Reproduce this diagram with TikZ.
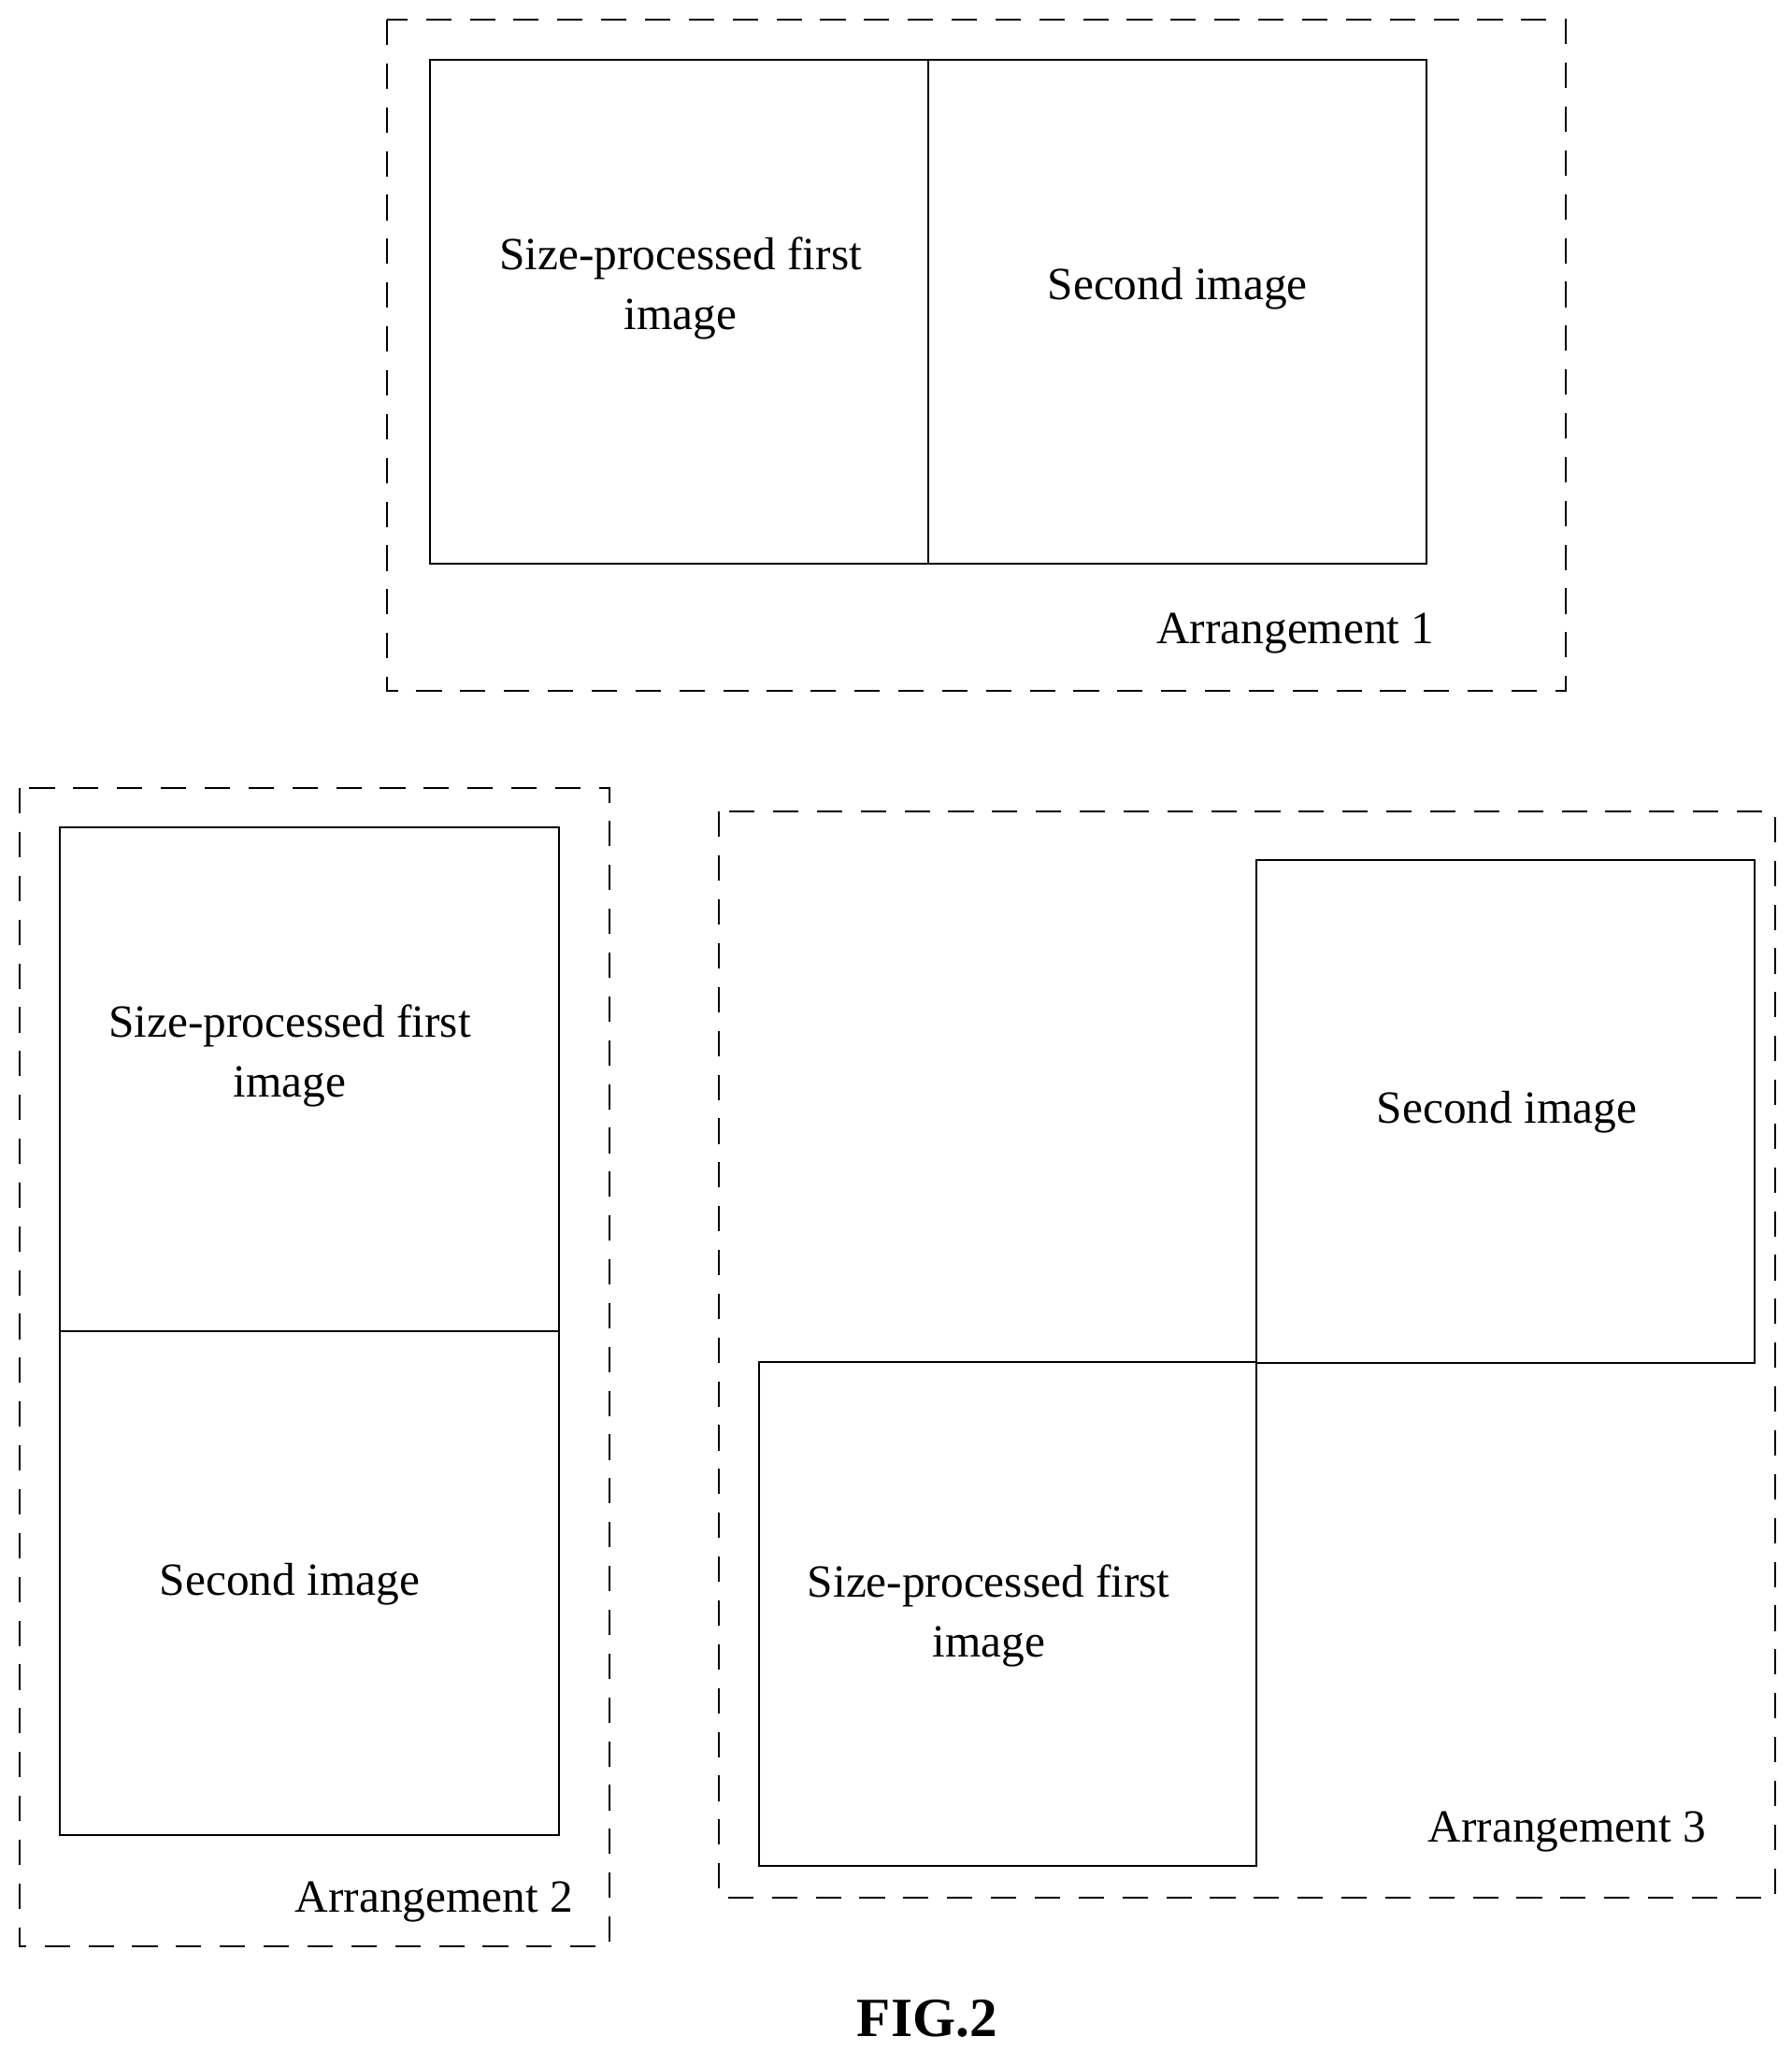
\documentclass[tikz,border=0pt]{standalone}
\usepackage{fontspec}
\setmainfont{Liberation Serif}
\usetikzlibrary{positioning}
\begin{document}
\begin{tikzpicture}[x=0.01cm,y=-0.01cm,
  frame/.style={draw,dash pattern=on 5.5pt off 4pt,thin},
  img/.style={draw,thin,inner sep=0,outer sep=0},
  txt/.style={align=center,font=\fontsize{10}{13}\selectfont},
  lbl/.style={font=\fontsize{10}{13}\selectfont}]
 \useasboundingbox (0,0) rectangle (1366,1564);

 % arrangement 1
 \draw[frame] (295,15) rectangle (1194,527);
 \node[img,minimum width=3.8cm,minimum height=3.84cm] (a1f) at (518,238) {};
 \node[img,minimum width=3.8cm,minimum height=3.84cm] (a1s) at (898,238) {};
 \node[txt] (t1f) at (519,220) {Size-processed first\\image};
 \node[txt] (t1s) at (898,220) {Second image};
 \node[lbl] (l1) at (988,483) {Arrangement 1};

 % arrangement 2
 \draw[frame] (15,601) rectangle (465,1484);
 \node[img,minimum width=3.8cm,minimum height=3.84cm] (a2f) at (236,823) {};
 \node[img,minimum width=3.8cm,minimum height=3.84cm] (a2s) at (236,1207) {};
 \node[txt] (t2f) at (221,805) {Size-processed first\\image};
 \node[txt] (t2s) at (221,1208) {Second image};
 \node[lbl] (l2) at (331,1450) {Arrangement 2};

 % arrangement 3
 \draw[frame] (548,619) rectangle (1354,1447);
 \node[img,minimum width=3.8cm,minimum height=3.83cm] (a3s) at (1148,847.5) {};
 \node[img,minimum width=3.79cm,minimum height=3.84cm] (a3f) at (768.5,1231) {};
 \node[txt] (t3s) at (1149,848) {Second image};
 \node[txt] (t3f) at (754,1232) {Size-processed first\\image};
 \node[lbl] (l3) at (1195,1397) {Arrangement 3};

 \node[font=\fontsize{12}{14}\selectfont\bfseries] (fig) at (707,1539) {FIG.2};
\end{tikzpicture}
\end{document}
